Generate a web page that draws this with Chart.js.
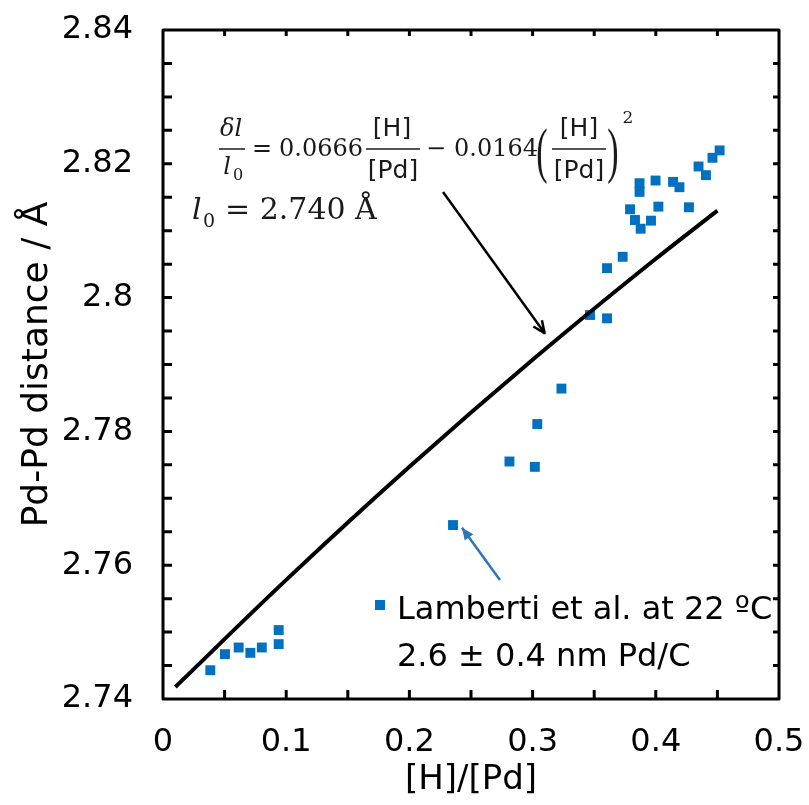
<!DOCTYPE html>
<html>
<head>
    <meta charset="UTF-8">
    <title>Pd-Pd distance vs [H]/[Pd]</title>
    <script src="https://cdn.jsdelivr.net/npm/chart.js"></script>
    <style>
        body {
            margin: 0;
            background: #ffffff;
        }

        .chart-container {
            position: relative;
            width: 809px;
            height: 805px;
        }
    </style>
</head>
<body>
<div class="chart-container">
    <canvas id="pdChart" width="809" height="805"></canvas>
</div>

<script>
    // Lamberti et al., measured points
    const hRatio = [0.0384, 0.0503, 0.0614, 0.0709, 0.0802, 0.0939, 0.0939, 0.2354, 0.2812, 0.3018,
        0.3038, 0.3234, 0.3466, 0.3604, 0.3604, 0.3731, 0.3877, 0.3961, 0.3831, 0.3791,
        0.4021, 0.4269, 0.3868, 0.3868, 0.3998, 0.4140, 0.4192, 0.4347, 0.4407, 0.4460, 0.4518];
    const pdDistance = [2.7443, 2.7467, 2.7477, 2.7469, 2.7477, 2.7503, 2.7482, 2.7660, 2.7755, 2.7747,
        2.7811, 2.7864, 2.7974, 2.7969, 2.8044, 2.8061, 2.8103, 2.8115, 2.8116, 2.8132,
        2.8136, 2.8135, 2.8158, 2.8171, 2.8175, 2.8173, 2.8165, 2.8196, 2.8183, 2.8209, 2.8220];

    // fitted curve
    const fitRatio = [0.01, 0.1, 0.2, 0.3, 0.4, 0.45];
    const fitDistance = [2.7418, 2.7578, 2.7747, 2.7907, 2.8058, 2.8130];

    const xTickLabels = ['0', '0.1', '0.2', '0.3', '0.4', '0.5'];
    const yTickLabels = ['2.74', '2.76', '2.78', '2.8', '2.82', '2.84'];

    const pointBlue = '#0070C0';

    function labelFor(list, value) {
        const hit = list.find(l => Math.abs(parseFloat(l) - value) < 1e-6);
        return hit === undefined ? '' : hit;
    }

    function arrow(ctx, x1, y1, x2, y2, filled) {
        const ang = Math.atan2(y2 - y1, x2 - x1);
        const len = 13, spread = 0.42;
        ctx.beginPath();
        ctx.moveTo(x1, y1);
        ctx.lineTo(x2, y2);
        ctx.stroke();
        ctx.beginPath();
        ctx.moveTo(x2 - len * Math.cos(ang - spread), y2 - len * Math.sin(ang - spread));
        ctx.lineTo(x2, y2);
        ctx.lineTo(x2 - len * Math.cos(ang + spread), y2 - len * Math.sin(ang + spread));
        if (filled) {
            ctx.closePath();
            ctx.fill();
        } else {
            ctx.stroke();
        }
    }

    function paren(ctx, ch, x, y) {
        ctx.save();
        ctx.translate(x, y);
        ctx.scale(0.55, 1);
        ctx.font = '62px "Liberation Serif"';
        ctx.textAlign = 'center';
        ctx.fillText(ch, 0, 0);
        ctx.restore();
    }

    const framePlugin = {
        id: 'frame',
        afterDraw(chart) {
            const {ctx, chartArea: {left, right, top, bottom}, scales: {x, y}} = chart;
            ctx.save();
            ctx.strokeStyle = '#000';
            ctx.lineWidth = 3;
            ctx.lineCap = 'butt';
            x.ticks.forEach(t => {
                const px = x.getPixelForValue(t.value);
                if (px < left + 2 || px > right - 2) return;
                ctx.beginPath();
                ctx.moveTo(px, bottom); ctx.lineTo(px, bottom - 9);
                ctx.moveTo(px, top); ctx.lineTo(px, top + 6);
                ctx.stroke();
            });
            y.ticks.forEach(t => {
                const py = y.getPixelForValue(t.value);
                if (py < top + 2 || py > bottom - 2) return;
                ctx.beginPath();
                ctx.moveTo(left, py); ctx.lineTo(left + 9, py);
                ctx.moveTo(right, py); ctx.lineTo(right - 6, py);
                ctx.stroke();
            });
            ctx.lineJoin = 'round';
            ctx.strokeRect(left, top, right - left, bottom - top);

            // arrows, anchored in data units
            ctx.lineWidth = 2.5;
            ctx.strokeStyle = '#000';
            arrow(ctx, x.getPixelForValue(0.2273), y.getPixelForValue(2.8158),
                x.getPixelForValue(0.3097), y.getPixelForValue(2.7947), false);
            ctx.strokeStyle = '#2E75B6';
            ctx.fillStyle = '#2E75B6';
            arrow(ctx, x.getPixelForValue(0.2735), y.getPixelForValue(2.7578),
                x.getPixelForValue(0.2427), y.getPixelForValue(2.7656), true);

            // legend
            ctx.fillStyle = pointBlue;
            ctx.fillRect(375, 600, 10, 10);
            ctx.fillStyle = '#000';
            ctx.textBaseline = 'middle';
            ctx.textAlign = 'left';
            ctx.font = '32px "DejaVu Sans"';
            ctx.fillText('Lamberti et al. at 22 ºC', 397, 611);
            ctx.fillText('2.6 ± 0.4 nm Pd/C', 397, 658);

            // formula
            ctx.fillStyle = '#1a1a1a';
            ctx.strokeStyle = '#1a1a1a';
            ctx.lineWidth = 1.5;
            ctx.textAlign = 'center';
            ctx.font = 'italic 24px "DejaVu Serif"';
            ctx.fillText('δl', 231, 130);
            ctx.fillText('l', 227, 168);
            ctx.font = '16px "DejaVu Serif"';
            ctx.fillText('0', 238, 176);
            ctx.beginPath();
            ctx.moveTo(219, 149); ctx.lineTo(245, 149);
            ctx.moveTo(366, 149); ctx.lineTo(420, 149);
            ctx.moveTo(552, 149); ctx.lineTo(606, 149);
            ctx.stroke();
            ctx.font = '24px "DejaVu Serif"';
            ctx.fillText('=', 262, 150);
            ctx.fillText('−', 436, 150);
            ctx.textAlign = 'left';
            ctx.fillText('0.0666', 279, 150);
            ctx.fillText('0.0164', 454, 150);
            ctx.textAlign = 'center';
            ctx.font = '25px "DejaVu Sans"';
            ctx.fillText('[H]', 392, 129);
            ctx.fillText('[Pd]', 393, 171);
            ctx.fillText('[H]', 579, 129);
            ctx.fillText('[Pd]', 579, 171);
            paren(ctx, '(', 542, 155);
            paren(ctx, ')', 613, 155);
            ctx.font = '17px "DejaVu Serif"';
            ctx.fillText('2', 628, 119);

            // l0 = 2.740 Å
            ctx.textAlign = 'left';
            ctx.font = 'italic 30px "DejaVu Serif"';
            ctx.fillText('l', 192, 211);
            ctx.font = '19px "DejaVu Serif"';
            ctx.fillText('0', 203, 222);
            ctx.font = '30px "DejaVu Serif"';
            ctx.fillText('= 2.740 Å', 225, 211);
            ctx.restore();
        }
    };

    const ctx = document.getElementById('pdChart').getContext('2d');
    new Chart(ctx, {
        data: {
            datasets: [{
                type: 'line',
                label: 'fit',
                data: fitRatio.map((v, i) => ({x: v, y: fitDistance[i]})),
                borderColor: '#000',
                borderWidth: 4,
                pointRadius: 0,
                cubicInterpolationMode: 'monotone',
                fill: false
            }, {
                type: 'scatter',
                label: 'Lamberti et al. at 22 ºC',
                data: hRatio.map((v, i) => ({x: v, y: pdDistance[i]})),
                pointStyle: 'rect',
                pointRadius: 7,
                backgroundColor: pointBlue,
                borderWidth: 0
            }]
        },
        options: {
            responsive: false,
            animation: false,
            layout: {padding: {left: 0, right: 30, top: 30, bottom: 0}},
            plugins: {
                legend: {display: false},
                tooltip: {enabled: false}
            },
            scales: {
                x: {
                    type: 'linear',
                    min: 0,
                    max: 0.5,
                    grid: {display: false, drawTicks: false},
                    border: {display: false},
                    ticks: {
                        stepSize: 0.05,
                        autoSkip: false,
                        maxRotation: 0,
                        padding: 24,
                        color: '#000',
                        font: {family: 'DejaVu Sans', size: 32},
                        callback: v => labelFor(xTickLabels, v)
                    },
                    title: {
                        display: true,
                        text: '[H]/[Pd]',
                        color: '#000',
                        font: {family: 'DejaVu Sans', size: 34},
                        padding: {top: 0, bottom: 4}
                    },
                    afterFit: s => {
                        s.height = 106;
                        s.paddingLeft = 0;
                        s.paddingRight = 0;
                    }
                },
                y: {
                    type: 'linear',
                    min: 2.74,
                    max: 2.84,
                    grid: {display: false, drawTicks: false},
                    border: {display: false},
                    ticks: {
                        stepSize: 0.005,
                        autoSkip: false,
                        padding: 30,
                        color: '#000',
                        font: {family: 'DejaVu Sans', size: 32},
                        callback: v => labelFor(yTickLabels, v)
                    },
                    title: {
                        display: true,
                        text: 'Pd-Pd distance / Å',
                        color: '#000',
                        font: {family: 'DejaVu Sans', size: 36},
                        padding: {top: 16, bottom: 0}
                    },
                    afterFit: s => {
                        s.width = 163;
                        s.paddingTop = 0;
                        s.paddingBottom = 0;
                    }
                }
            }
        },
        plugins: [framePlugin]
    });
</script>
</body>
</html>
